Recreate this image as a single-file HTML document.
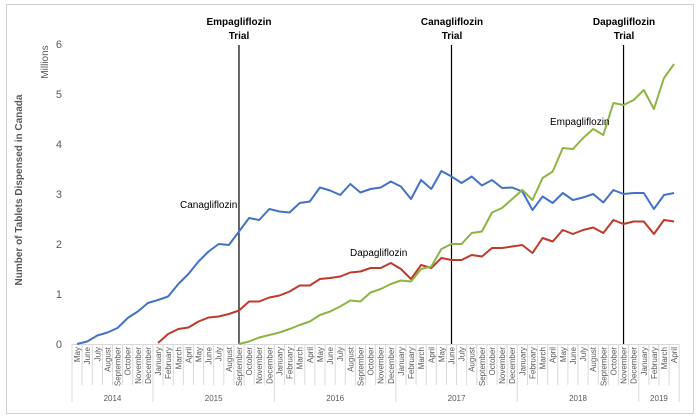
<!DOCTYPE html>
<html><head><meta charset="utf-8"><style>
body{margin:0;background:#fff}
svg{display:block;font-family:"Liberation Sans",sans-serif}
</style></head><body>
<svg width="700" height="420" viewBox="0 0 700 420" xmlns="http://www.w3.org/2000/svg">
<rect x="0" y="0" width="700" height="420" fill="#fff"/>
<rect x="6.5" y="4.5" width="687" height="409" fill="none" stroke="#d0d0d0"/>
<g id="ax"></g>
<text x="22" y="190" transform="rotate(-90 22 190)" text-anchor="middle" font-size="10" font-weight="bold" fill="#595959">Number of Tablets Dispensed in Canada</text>
<text x="48" y="62" transform="rotate(-90 48 62)" text-anchor="middle" font-size="10" fill="#595959">Millions</text>
<g font-size="10" font-weight="bold" fill="#000" text-anchor="middle">
<text x="239" y="25">Empagliflozin</text><text x="239" y="39">Trial</text>
<text x="452" y="25">Canagliflozin</text><text x="452" y="39">Trial</text>
<text x="624" y="25">Dapagliflozin</text><text x="624" y="39">Trial</text>
</g>
<g font-size="10" fill="#000">
<text x="180" y="208">Canagliflozin</text>
<text x="350" y="256">Dapagliflozin</text>
<text x="550" y="125">Empagliflozin</text>
</g>
<script>
const ns="http://www.w3.org/2000/svg",g=document.getElementById("ax");
function el(t,a,txt){const e=document.createElementNS(ns,t);for(const k in a)e.setAttribute(k,a[k]);if(txt!==undefined)e.textContent=txt;g.appendChild(e);return e;}
const L=72,W=10.12,Y0=344,S=50;
const X=i=>L+W*(i+0.5),Y=v=>Y0-v*S;
for(let v=0;v<=6;v++)el("text",{x:62,y:Y(v)+4,"text-anchor":"end","font-size":"11",fill:"#595959"},v);
el("line",{x1:L,y1:Y0+.5,x2:L+W*60,y2:Y0+.5,stroke:"#d9d9d9"});
const mn=["January","February","March","April","May","June","July","August","September","October","November","December"];
for(let i=0;i<60;i++){const m=(i+4)%12;
 el("text",{x:0,y:0,transform:`translate(${X(i)+3},347) rotate(-90)`,"text-anchor":"end","font-size":"8",fill:"#595959"},mn[m]);}
for(let i=0;i<=60;i++){const m=(i+4)%12;const yr=(m==0||i==0||i==60);
 el("line",{x1:L+W*i,y1:Y0,x2:L+W*i,y2:yr?402:385,stroke:"#d9d9d9"});}
[[0,8,"2014"],[8,20,"2015"],[20,32,"2016"],[32,44,"2017"],[44,56,"2018"],[56,60,"2019"]].forEach(([a,b,t])=>el("text",{x:L+W*(a+b)/2,y:401,"text-anchor":"middle","font-size":"8",fill:"#595959"},t));
[16,37,54].forEach(i=>el("line",{x1:X(i),y1:45,x2:X(i),y2:Y0,stroke:"#000","stroke-width":1.2}));
const blue=[0,0.05,0.17,0.23,0.32,0.52,0.65,0.82,0.88,0.95,1.2,1.4,1.65,1.85,2.0,1.98,2.25,2.52,2.48,2.7,2.65,2.63,2.82,2.85,3.13,3.07,2.98,3.2,3.03,3.1,3.13,3.25,3.15,2.9,3.28,3.1,3.46,3.35,3.22,3.35,3.17,3.28,3.12,3.13,3.05,2.68,2.95,2.82,3.02,2.88,2.93,3.0,2.83,3.08,3.0,3.02,3.02,2.7,2.98,3.02];
const red=[0.02,0.2,0.3,0.33,0.45,0.53,0.55,0.6,0.67,0.85,0.85,0.93,0.97,1.05,1.17,1.17,1.3,1.32,1.35,1.43,1.45,1.52,1.52,1.62,1.5,1.3,1.58,1.52,1.72,1.68,1.68,1.78,1.75,1.92,1.92,1.95,1.98,1.82,2.12,2.05,2.28,2.2,2.28,2.33,2.22,2.48,2.4,2.45,2.45,2.2,2.48,2.45];
const green=[0,0.05,0.13,0.18,0.23,0.3,0.38,0.45,0.58,0.65,0.75,0.87,0.85,1.03,1.1,1.2,1.27,1.25,1.5,1.55,1.9,2.0,2.0,2.22,2.25,2.63,2.72,2.9,3.08,2.88,3.32,3.45,3.92,3.9,4.12,4.3,4.18,4.82,4.78,4.88,5.08,4.7,5.32,5.6];
[[blue,0,"#4472c4"],[red,8,"#c0392b"],[green,16,"#8db542"]].forEach(([d,o,c])=>el("polyline",{points:d.map((v,i)=>X(i+o).toFixed(1)+","+Y(v).toFixed(1)).join(" "),fill:"none",stroke:c,"stroke-width":2,"stroke-linejoin":"round"}));
</script>
</svg>
</body></html>
